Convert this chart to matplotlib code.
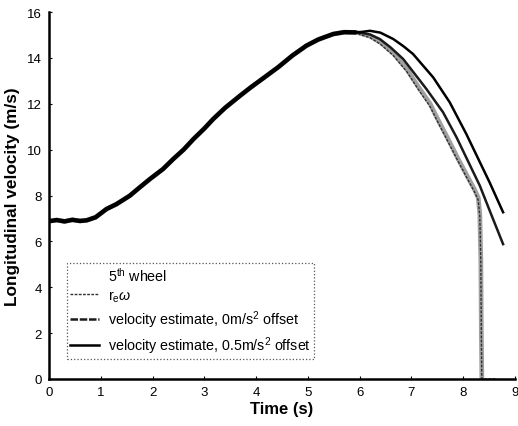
import numpy as np
import matplotlib
matplotlib.use("Agg")
from matplotlib import pyplot as plt

# shared part of all traces (before braking)
t_rise = [0.0, 0.15, 0.3, 0.45, 0.6, 0.73, 0.9, 1.11, 1.3, 1.56, 1.75, 1.95, 2.2, 2.4,
          2.6, 2.79, 3.0, 3.17, 3.4, 3.69, 3.9, 4.07, 4.25, 4.43, 4.7, 4.97, 5.2, 5.49,
          5.7, 5.94]
v_rise = [6.88, 6.93, 6.87, 6.94, 6.89, 6.92, 7.05, 7.41, 7.62, 7.99, 8.35, 8.72, 9.15, 9.59,
          10.0, 10.46, 10.92, 11.33, 11.82, 12.35, 12.72, 13.0, 13.3, 13.6, 14.1, 14.53, 14.8, 15.04,
          15.12, 15.11]

# 5th wheel after braking starts
t_wheel_tail = [6.0, 6.2, 6.4, 6.65, 6.91, 7.13, 7.36, 7.48, 7.71, 7.9, 8.1, 8.22,
                8.29, 8.32, 8.34, 8.35, 8.36]
v_wheel_tail = [15.08, 14.95, 14.68, 14.2, 13.51, 12.75, 12.0, 11.45, 10.45, 9.6, 8.75, 8.25,
                7.9, 7.2, 5.2, 2.0, 0.0]

# r_e * omega after braking starts (wheel locks, then stays at zero)
t_re_tail = [6.0, 6.2, 6.4, 6.65, 6.91, 7.13, 7.36, 7.48, 7.71, 7.9, 8.1, 8.22,
             8.29, 8.32, 8.34, 8.35, 8.36, 8.65]
v_re_tail = [15.02, 14.88, 14.6, 14.1, 13.4, 12.63, 11.88, 11.33, 10.33, 9.5, 8.65, 8.15,
             7.8, 7.1, 5.1, 1.9, 0.0, 0.0]

# velocity estimate, 0 m/s^2 offset
t_est0_tail = [6.0, 6.2, 6.39, 6.6, 6.84, 7.05, 7.29, 7.61, 7.87, 8.32, 8.55, 8.77]
v_est0_tail = [15.1, 15.02, 14.82, 14.45, 13.95, 13.34, 12.64, 11.63, 10.54, 8.43, 7.12, 5.88]

# velocity estimate, 0.5 m/s^2 offset
t_est05_tail = [6.0, 6.2, 6.4, 6.65, 6.85, 7.03, 7.42, 7.74, 8.06, 8.32, 8.51, 8.77]
v_est05_tail = [15.12, 15.18, 15.1, 14.82, 14.5, 14.17, 13.15, 12.06, 10.68, 9.46, 8.57, 7.27]

plt.rcParams['font.family'] = ['Liberation Sans', 'DejaVu Sans']
plt.rcParams['mathtext.fontset'] = 'custom'
plt.rcParams['mathtext.rm'] = 'Liberation Sans'
plt.rcParams['mathtext.it'] = 'Liberation Sans:italic'

fig = plt.figure(figsize=(5.18, 4.27), dpi=100)
ax = fig.add_axes([49 / 518, 47 / 427, 466 / 518, 367 / 427])

ax.plot(t_rise + t_wheel_tail, v_rise + v_wheel_tail, color='#a0a0a0', lw=3.4,
        label=r'5$^{\mathrm{th}}$ wheel')
ax.plot(t_rise + t_re_tail, v_rise + v_re_tail, color='#303030', lw=1.0,
        ls=(0, (2, 1)), label=r'r$_{\mathrm{e}}\omega$')
ax.plot(t_rise + t_est0_tail, v_rise + v_est0_tail, color='#1a1a1a', lw=1.8,
        label=r'velocity estimate, 0m/s$^2$ offset')
ax.plot(t_rise + t_est05_tail, v_rise + v_est05_tail, color='black', lw=1.8,
        label=r'velocity estimate, 0.5m/s$^2$ offset')
# all traces lie on top of each other before braking
ax.plot(t_rise, v_rise, color='black', lw=3.2, solid_capstyle='butt')

ax.set_xlim(0, 9)
ax.set_ylim(0, 16)
ax.set_xticks(range(0, 10))
ax.set_yticks(range(0, 17, 2))
ax.spines['top'].set_visible(False)
ax.spines['right'].set_visible(False)
ax.spines['left'].set_linewidth(1.8)
ax.spines['bottom'].set_linewidth(1.8)
ax.tick_params(direction='in', length=2, width=0.8, labelsize=9.5, pad=5)

ax.set_xlabel('Time (s)', fontsize=12, fontweight='bold', labelpad=2)
ax.set_ylabel('Longitudinal velocity (m/s)', fontsize=12.4, fontweight='bold', labelpad=5)

leg = ax.legend(loc='lower left', bbox_to_anchor=(0.039, 0.054), fontsize=10.3,
                fancybox=False, framealpha=1, handlelength=2.0, handletextpad=0.6,
                labelspacing=0.32, borderpad=0.22, borderaxespad=0)
leg.get_frame().set_linestyle(':')
leg.get_frame().set_edgecolor('#555555')
leg.get_frame().set_linewidth(0.9)
leg.legend_handles[0].set_color('white')
leg.legend_handles[2].set_linestyle((0, (3, 0.7)))

fig.savefig('out.png', dpi=100)
